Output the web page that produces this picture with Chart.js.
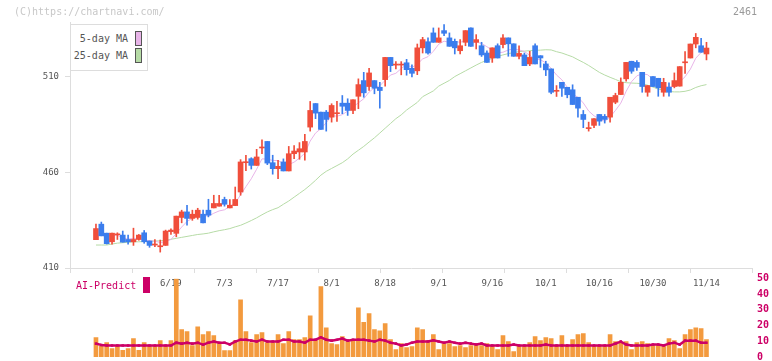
<!DOCTYPE html>
<html><head><meta charset="utf-8">
<script src="https://cdn.jsdelivr.net/npm/chart.js@4.4.1/dist/chart.umd.min.js"></script>
<style>
html,body{margin:0;padding:0;background:#fff;}
#wrap{position:relative;width:772px;height:361px;overflow:hidden;font-family:"DejaVu Sans Mono",monospace;}
#c1{position:absolute;left:0;top:0;}
#c2{position:absolute;left:0;top:270px;}
#copy{position:absolute;left:14px;top:5px;font-size:10px;color:#c8c8c8;line-height:14px;}
#code{position:absolute;right:15px;top:5px;font-size:10px;color:#999;line-height:14px;}
#lg1{position:absolute;left:70px;top:24px;width:78px;height:47px;border:1px solid #ddd;background:#fff;box-sizing:border-box;font-size:10px;color:#555;}
#lg1 .it{position:absolute;right:5px;height:15px;display:flex;align-items:center;white-space:nowrap;}
#lg1 .sw{display:inline-block;width:5px;height:13px;border:1px solid #555;margin-left:7px;}
#lg2{position:absolute;left:76px;top:277px;height:16px;font-size:10px;color:#cc0066;display:flex;align-items:center;white-space:nowrap;}
#lg2 .sw{display:inline-block;width:7px;height:16px;margin-left:7px;}
</style></head>
<body>
<div id="wrap">
  <canvas id="c1" width="772" height="300"></canvas>
  <canvas id="c2" width="772" height="91"></canvas>
  <div id="copy">(C)https://chartnavi.com/</div>
  <div id="code">2461</div>
  <div id="lg1"></div>
  <div id="lg2"></div>
</div>
<script>
// ---- data ----
const categories = ['5/30','6/2','6/3','6/4','6/5','6/6','6/9','6/10','6/11','6/12','6/13','6/16','6/17','6/18','6/19','6/20','6/23','6/24','6/25','6/26','6/27','6/30','7/1','7/2','7/3','7/4','7/7','7/8','7/9','7/10','7/11','7/14','7/15','7/16','7/17','7/18','7/22','7/23','7/24','7/25','7/28','7/29','7/30','7/31','8/1','8/4','8/5','8/6','8/7','8/8','8/12','8/13','8/14','8/15','8/18','8/19','8/20','8/21','8/22','8/25','8/26','8/27','8/28','8/29','9/1','9/2','9/3','9/4','9/5','9/8','9/9','9/10','9/11','9/12','9/16','9/17','9/18','9/19','9/22','9/24','9/25','9/26','9/29','9/30','10/1','10/2','10/3','10/6','10/7','10/8','10/9','10/10','10/14','10/15','10/16','10/17','10/20','10/21','10/22','10/23','10/24','10/27','10/28','10/29','10/30','10/31','11/4','11/5','11/6','11/7','11/10','11/11','11/12','11/13','11/14'];
const xTickLabels = ['6/19','7/3','7/17','8/1','8/18','9/1','9/16','10/1','10/16','10/30','11/14'];
const yTicks = [410, 460, 510];
const volTicks = [0, 10, 20, 30, 40, 50];

const open = [424.8,432.9,428.2,423.7,427.3,427.2,424.9,423.7,424.9,428.4,
424.1,422,421.1,421.8,429,428.1,436.4,439.3,435.9,436.4,
438.1,440.2,441.4,442.3,445.8,441.4,442.6,449.7,465,467.1,
463.6,472.7,476.1,465,461.9,465.4,460.7,469.7,470.6,470.6,
483.6,495.9,491.4,491.4,488.8,490.6,496.1,496.1,492.3,499.7,
507.9,504.8,507.9,504.4,508.4,520,516,516,517.2,514.3,
513,525,528.2,532.8,527.9,534,530.2,528.4,523.5,527.9,
535.4,527.9,526.1,522.3,519.7,526.1,526.7,530.2,527.1,520.6,
521.3,516.6,526.1,520.9,516.6,514,502.3,507,504.4,503.1,
499.2,490.2,482.8,484.5,490.2,489.2,488.8,496.6,500.6,508.8,
518,517.4,512.2,501.8,510,509.1,501.8,504.4,504.8,505,
517.2,519.7,527,526.1,521.8];
const high = [432.9,434,428.2,428.2,428.4,429.3,427.2,430.8,427.5,429.6,
424.1,424.9,424.6,429.8,430.5,437.1,440.2,442.8,440.2,441.2,
440.2,445.9,448,448,447,445.8,452.3,466.6,468.9,467.6,
472,477,476.1,468.9,466.3,467,473.5,474,475.5,479.8,
497,495.9,491.4,492.3,495.8,497,500.1,498.4,497.9,508.8,
512.2,514.3,507.9,507,520,520,517.8,517.8,519,516.1,
527,530.5,530.2,535.4,535.4,537.1,532.8,529.6,529.3,534,
535.4,531.9,527.9,523.4,525,527.1,531.9,530.2,527.1,526.1,
522.3,523.2,527.1,520.9,518,514,505.3,507,504.4,505.7,
499.2,492.3,486.2,488,490.2,490.2,499.2,501.3,509.3,517.4,
518,518.3,512.2,505.3,510,509.1,509.1,506.7,511.9,515.2,
523,527,532.5,530,527.9];
const low = [424.8,426.8,422.5,422.5,424.9,423.5,422.5,421.8,424.5,422.9,
420.8,421.1,418.3,421.8,427.5,426.3,433.6,432.4,434.9,435.5,
433.6,436.7,441.4,442.3,442.3,441.4,442.6,448,460.9,461.7,
463.6,469.7,464,459,456.7,460.7,460.7,467.1,466.8,466.3,
481.5,488,482.4,481.5,486.2,486.6,490.6,489.7,490.6,493.2,
499.2,502.7,501,493.5,505,512.6,514,510.9,510.7,509.8,
511,522.3,521.7,527.9,527.9,531.4,525.8,521.8,521.8,526.1,
525.8,524.4,520.5,517.4,517.4,519.7,524.9,520.6,520.6,519.2,
515.7,515.7,516.6,514.8,510.5,501,499.6,499.6,498.9,495.4,
488.8,483.3,481.5,483.3,484.5,485.7,486.2,495.8,500.6,507.6,
511.7,513.2,501.8,499.7,504.8,499.7,499.7,499.7,504.1,505,
511.7,519.7,525,522.7,518.7];
const close = [430.6,426.8,422.7,428.2,427.4,423.5,423.7,424.9,427.2,423.7,
421.8,422.3,421.3,429.3,429.8,437.1,439.3,435.9,438.1,440.2,
433.6,437.6,443.7,443.7,443.3,442.8,445.8,465.4,465.3,463.6,
468,472.9,464.8,461.9,463.1,460.7,469.7,471.1,472.3,476.1,
492.3,490.9,482.4,487.6,494.9,490.9,494.5,492.3,497.9,505.8,
501.5,511.9,503.9,502.7,520,515.7,516.2,516.2,513.6,511.7,
525,529.3,522.3,527.9,530.2,532.6,525.8,525,526.1,534,
525.8,529.3,521.3,517.4,525,519.7,530.2,527.1,520.6,522.1,
515.7,520,516.6,519.7,513.5,501.8,502.5,503.9,500.5,495.4,
493.5,487.6,483,488,486.7,487.6,499.2,500.1,507,517.4,
512.8,514.8,504.8,505.3,504.8,504.1,507,501.8,507.9,515.2,
517.6,527,530.5,522.7,524.9];
const ma5 = [427.5,427,426.5,427,427.1,425.7,425.1,425.5,425.3,424.6,
424.3,424,423.3,423.7,424.9,428,431.4,434.3,436,438.1,
437.4,437.1,438.6,439.8,440.4,442.2,443.9,448.2,452.5,456.6,
461.6,467,466.9,466.2,466.1,464.7,464,465.3,467.4,470,
476.3,480.5,482.8,485.9,489.6,489.3,490.1,492,494.1,496.3,
498.4,501.9,504.2,505.2,508,510.8,511.7,514.2,516.3,514.7,
516.5,519.2,520.4,523.2,526.9,528.5,527.8,528.3,527.9,528.7,
527.3,528,527.3,525.6,523.8,522.5,522.7,523.9,524.5,523.9,
523.1,521.1,519,518.8,517.1,514.3,510.8,508.3,504.4,500.8,
499.2,496.2,492,489.5,487.8,486.6,488.9,492.3,496.1,502.3,
507.3,510.4,511.4,511,508.5,506.8,505.2,504.6,505.1,507.2,
509.9,513.9,519.6,522.6,524.5];
const ma25 = [422,422,422,422.5,423,423.2,423.4,423.6,423.7,423.8,
424,424.1,424.2,424.5,425,425.5,426,426.5,427,427.5,
427.8,428.2,428.9,429.5,430,430.6,431.5,432.3,433.5,434.8,
436.2,437.8,439.3,440.5,441.5,443.3,445,447,449,451,
453.3,455.8,458.5,460.5,462,463.5,465,467,469.5,471.5,
473.5,475.8,478,480.5,483,485.5,488,490,492.5,494.5,
496.5,499.5,501,502.5,505,506.5,508,510,511.5,513,
514.5,516,517.4,518.5,519.5,520.5,521.3,522,522.5,523,
523.3,523.5,523.7,523.8,524,523.9,523,522.3,521.3,520.3,
518.8,517.4,515.8,514,512.2,510.8,509.6,508.5,507.3,506.8,
506.6,506.5,506.2,505.5,504.5,503.5,502.8,502.2,502,502,
502.3,503,504.3,505.2,505.8];
const volume = [12.3,6.8,9.1,5.4,6.8,4.3,5.4,11.7,4.3,9.1,
6.8,6.8,10.4,7.2,10.4,49.5,17.4,16.1,7.2,19.2,
14.2,16.1,13.6,8.5,4.1,4.1,10.4,36.3,16.1,9.1,
14.2,15.5,9.1,9.1,14.2,8.5,16.1,11,11,12.3,
26.2,11,44.7,18.6,8.5,7.9,12.9,9.8,11,31.2,
22,27.6,17.4,16.7,21.3,11,4.7,8.5,6,6.6,
18.6,17.4,10.4,14.2,4.7,8.5,8.5,6.6,7.2,6,
7.2,7.9,7.2,8.5,7.2,4.7,13.6,9.8,3.5,7.2,
7.2,9.1,12.9,10.4,12.3,11.7,7.3,13.6,7.3,11,
14.2,14.8,9.1,7.3,7.3,7.3,14.2,9.8,9.1,9.8,
4.7,9.1,9.8,8.5,7.9,7.9,7.3,11.7,10.4,5.4,
14.2,17.4,18.6,18,11];
const aiPredict = [8.5,7.6,7.3,7.3,7.3,7.3,7.3,7.3,7.3,7.3,
7.3,7.3,7.3,7.3,7.3,9.1,8.5,9.1,8.5,9.1,
7.8,9.1,9.8,9.1,9.1,8,9.8,11,11,10.4,
9.8,11,9.8,9.8,9.8,11,11,9.8,9.8,9.1,
11,11,12.5,11,10.4,11,11.7,10.4,11,11,
11,10.4,9.8,11,10.4,9.1,8.5,7.3,7.9,9.1,
9.8,9.8,9.8,10.6,9.8,9.1,9.8,9.1,8.5,9.1,
8.5,7.9,8.5,7.3,7.3,7.3,7.3,7.3,7.9,7.3,
7.3,7.3,7.3,7.3,7.9,7.3,7.3,7.3,7.3,7.3,
7.3,7.3,7.3,7.3,7.3,7.3,7.3,8.5,9.8,7.9,
7.3,7.3,7.3,7.3,7.9,7.9,7.3,8.5,9.1,7.9,
10.4,10.4,10.4,9.1,9.1];

// ---- styles ----
const UP = '#f04e3b', DOWN = '#3b7ded';
const MA5C = '#e8b4e8', MA25C = '#b6dba6';
const AXIS = '#dddddd', LABEL = '#555555', AIC = '#cc0066', VOLC = '#f39a3e';
const FONT = 'DejaVu Sans Mono';
const X_MIN = -4.85, X_MAX = 122.5;

const candleColors = close.map((c, i) => c >= open[i] ? UP : DOWN);
const pts = arr => arr.map((v, i) => ({x: i, y: v}));

const mainChart = new Chart(document.getElementById('c1'), {
  data: {
    datasets: [
      {type: 'line', label: '5-day MA', data: pts(ma5), borderColor: MA5C, backgroundColor: MA5C, borderWidth: 1, pointRadius: 0, order: 3, xAxisID: 'x', yAxisID: 'y'},
      {type: 'line', label: '25-day MA', data: pts(ma25), borderColor: MA25C, backgroundColor: MA25C, borderWidth: 1, pointRadius: 0, order: 4, xAxisID: 'x', yAxisID: 'y'},
      {type: 'bar', label: 'range', data: low.map((v, i) => ({x: i, y: [v, high[i]]})), backgroundColor: candleColors, barThickness: 1, grouped: false, order: 2, xAxisID: 'x', yAxisID: 'y'},
      {type: 'bar', label: 'body', data: open.map((v, i) => ({x: i, y: [v, close[i]]})), backgroundColor: candleColors, barThickness: 5, minBarLength: 1, grouped: false, order: 1, xAxisID: 'x', yAxisID: 'y'}
    ]
  },
  options: {
    responsive: false, animation: false,
    layout: {padding: {left: 0, right: 20, top: 22, bottom: 0}},
    plugins: {legend: {display: false}, tooltip: {enabled: false}},
    scales: {
      x: {
        type: 'linear', min: X_MIN, max: X_MAX, offset: false, position: 'bottom', weight: 1,
        grid: {display: false, drawTicks: false, offset: false}, border: {display: false},
        ticks: {autoSkip: false, maxRotation: 0, padding: 5, color: LABEL, font: {family: FONT, size: 9},
          callback: v => categories[v] ?? ''},
        afterBuildTicks: s => { s.ticks = xTickLabels.map(l => ({value: categories.indexOf(l)})); },
        afterFit: s => { s.height = 27; }
      },
      xg: {
        type: 'linear', min: 0, max: 11, offset: false, position: 'bottom', weight: 0, axis: 'x',
        ticks: {display: false, stepSize: 1},
        grid: {drawOnChartArea: false, drawTicks: true, tickLength: 5, color: AXIS, offset: false},
        border: {display: true, color: AXIS},
        afterFit: s => { s.height = 5; }
      },
      y: {
        type: 'linear', min: 410, max: 538.5, position: 'left',
        ticks: {color: LABEL, font: {family: FONT, size: 9}, padding: 6},
        grid: {drawOnChartArea: false, tickLength: 5, color: AXIS},
        border: {color: AXIS},
        afterBuildTicks: s => { s.ticks = yTicks.map(v => ({value: v})); },
        afterFit: s => { s.width = 70; }
      }
    }
  }
});

const subChart = new Chart(document.getElementById('c2'), {
  data: {
    datasets: [
      {type: 'line', label: 'AI-Predict', data: pts(aiPredict), borderColor: AIC, backgroundColor: AIC, borderWidth: 2.5, pointStyle: 'rect', pointRadius: 1.8, pointBorderWidth: 0, order: 1},
      {type: 'bar', label: 'Volume', data: pts(volume), backgroundColor: VOLC, barThickness: 4, grouped: false, order: 2}
    ]
  },
  options: {
    responsive: false, animation: false,
    layout: {padding: {left: 70, right: 0, top: 8.3, bottom: 3.4}},
    plugins: {legend: {display: false}, tooltip: {enabled: false}},
    scales: {
      x: {type: 'linear', min: X_MIN, max: X_MAX, offset: false, display: false},
      y: {
        type: 'linear', position: 'right', min: 0, max: 50,
        ticks: {color: AIC, font: {family: FONT, size: 10, weight: 'bold', lineHeight: 0.6}, padding: 0},
        afterBuildTicks: s => { s.ticks = volTicks.map(v => ({value: v})); },
        grid: {display: false, drawTicks: true, tickLength: 5}, border: {display: false},
        afterFit: s => { s.width = 20; }
      }
    }
  }
});

// ---- HTML legends built from the datasets ----
const lg1 = document.getElementById('lg1');
mainChart.data.datasets.filter(d => d.type === 'line').forEach((d, k) => {
  const it = document.createElement('div');
  it.className = 'it';
  it.style.top = (6 + k * 17) + 'px';
  const t = document.createElement('span'); t.textContent = d.label;
  const sw = document.createElement('span'); sw.className = 'sw'; sw.style.background = d.borderColor;
  it.appendChild(t); it.appendChild(sw); lg1.appendChild(it);
});
const lg2 = document.getElementById('lg2');
{
  const d = subChart.data.datasets[0];
  const t = document.createElement('span'); t.textContent = d.label;
  const sw = document.createElement('span'); sw.className = 'sw'; sw.style.background = d.borderColor;
  lg2.appendChild(t); lg2.appendChild(sw);
}
</script>
</body></html>
